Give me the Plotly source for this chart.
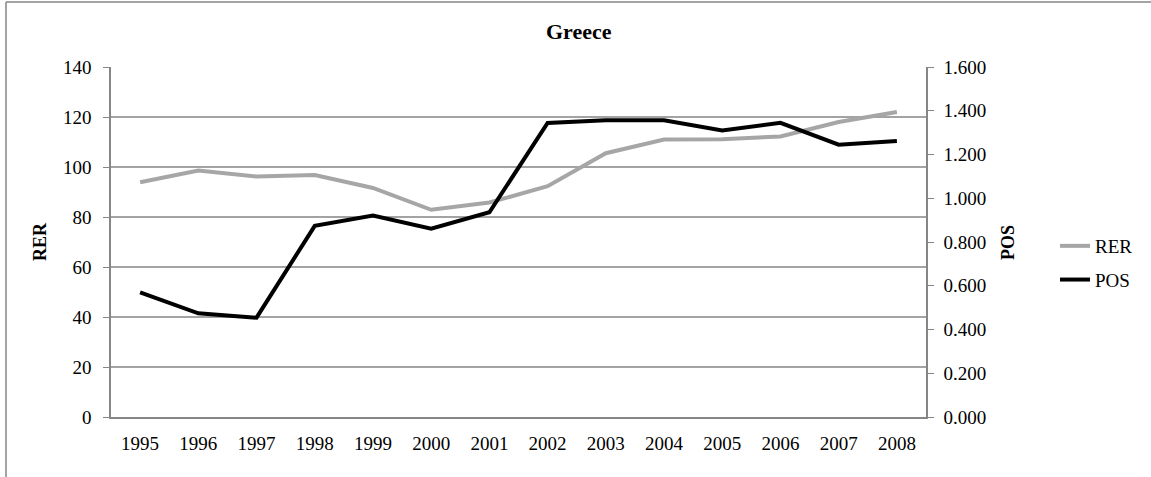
import plotly.graph_objects as go

years = ["1995", "1996", "1997", "1998", "1999", "2000", "2001",
         "2002", "2003", "2004", "2005", "2006", "2007", "2008"]
rer = [93.9, 98.6, 96.2, 96.8, 91.6, 82.9, 85.8,
       92.3, 105.5, 111.0, 111.1, 112.2, 118.0, 122.0]
pos = [0.570, 0.474, 0.454, 0.874, 0.921, 0.861, 0.936,
       1.344, 1.357, 1.357, 1.310, 1.345, 1.245, 1.262]

W, H = 1151, 477
L, R, T, B = 111, 926, 67, 417
pw, ph = R - L, B - T

def px(x):
    return (x - L) / pw

def py(y):
    return (B - y) / ph

FONT = "Liberation Serif"
AX = "#868686"
GRID = "#a3a3a3"

fig = go.Figure()
fig.add_trace(go.Scatter(x=years, y=rer, name="RER", mode="lines",
                         line=dict(color="#a6a6a6", width=4), legendgroup="a"))
fig.add_trace(go.Scatter(x=years, y=pos, name="POS", mode="lines", yaxis="y2",
                         line=dict(color="#000000", width=4), legendgroup="b"))

fig.update_layout(
    width=W, height=H,
    margin=dict(l=L, r=W - R, t=T, b=H - B, pad=0),
    paper_bgcolor="white", plot_bgcolor="white",
    font=dict(family=FONT, size=19, color="black"),
    showlegend=True,
    legend=dict(x=px(1055), y=py(263), xanchor="left", yanchor="middle",
                font=dict(size=19), tracegroupgap=6, itemwidth=30,
                bgcolor="rgba(0,0,0,0)"),
    xaxis=dict(type="category", range=[-0.5, 13.5], showgrid=False,
               showline=True, linecolor=AX, linewidth=1.5, ticks="",
               zeroline=False, tickfont=dict(size=19), ticklabelstandoff=8),
    yaxis=dict(range=[0, 140], dtick=20, showgrid=True, gridcolor=GRID, gridwidth=1.5,
               showline=True, linecolor=AX, linewidth=1.5, ticks="outside",
               ticklen=6, tickcolor=AX, zeroline=False, tickfont=dict(size=19),
               ticklabelstandoff=8),
    yaxis2=dict(range=[0, 1.6], dtick=0.2, tickformat=".3f", overlaying="y",
                side="right", showgrid=False, showline=True, linecolor=AX,
                linewidth=1.5, ticks="outside", ticklen=6, tickcolor=AX,
                zeroline=False, tickfont=dict(size=19), ticklabelstandoff=6),
    annotations=[
        dict(text="<b>Greece</b>", x=px(579), y=py(32), xref="paper", yref="paper",
             xanchor="center", yanchor="middle",
             showarrow=False, font=dict(size=22, family=FONT)),
        dict(text="<b>RER</b>", x=px(40), y=py(242), xref="paper", yref="paper",
             xanchor="center", yanchor="middle",
             showarrow=False, textangle=-90, font=dict(size=18, family=FONT)),
        dict(text="<b>POS</b>", x=px(1008), y=py(243), xref="paper", yref="paper",
             xanchor="center", yanchor="middle",
             showarrow=False, textangle=-90, font=dict(size=18, family=FONT)),
    ],
    shapes=[
        dict(type="line", xref="paper", yref="paper", x0=px(6), x1=px(1152),
             y0=py(2), y1=py(2), line=dict(color=AX, width=1.5)),
        dict(type="line", xref="paper", yref="paper", x0=px(6), x1=px(6),
             y0=py(2), y1=py(480), line=dict(color=AX, width=1.5)),
    ],
)

fig.write_html("out.html", config={"displayModeBar": False},
               post_script="document.body.style.margin='0';document.body.style.padding='0';document.body.style.overflow='hidden';")
